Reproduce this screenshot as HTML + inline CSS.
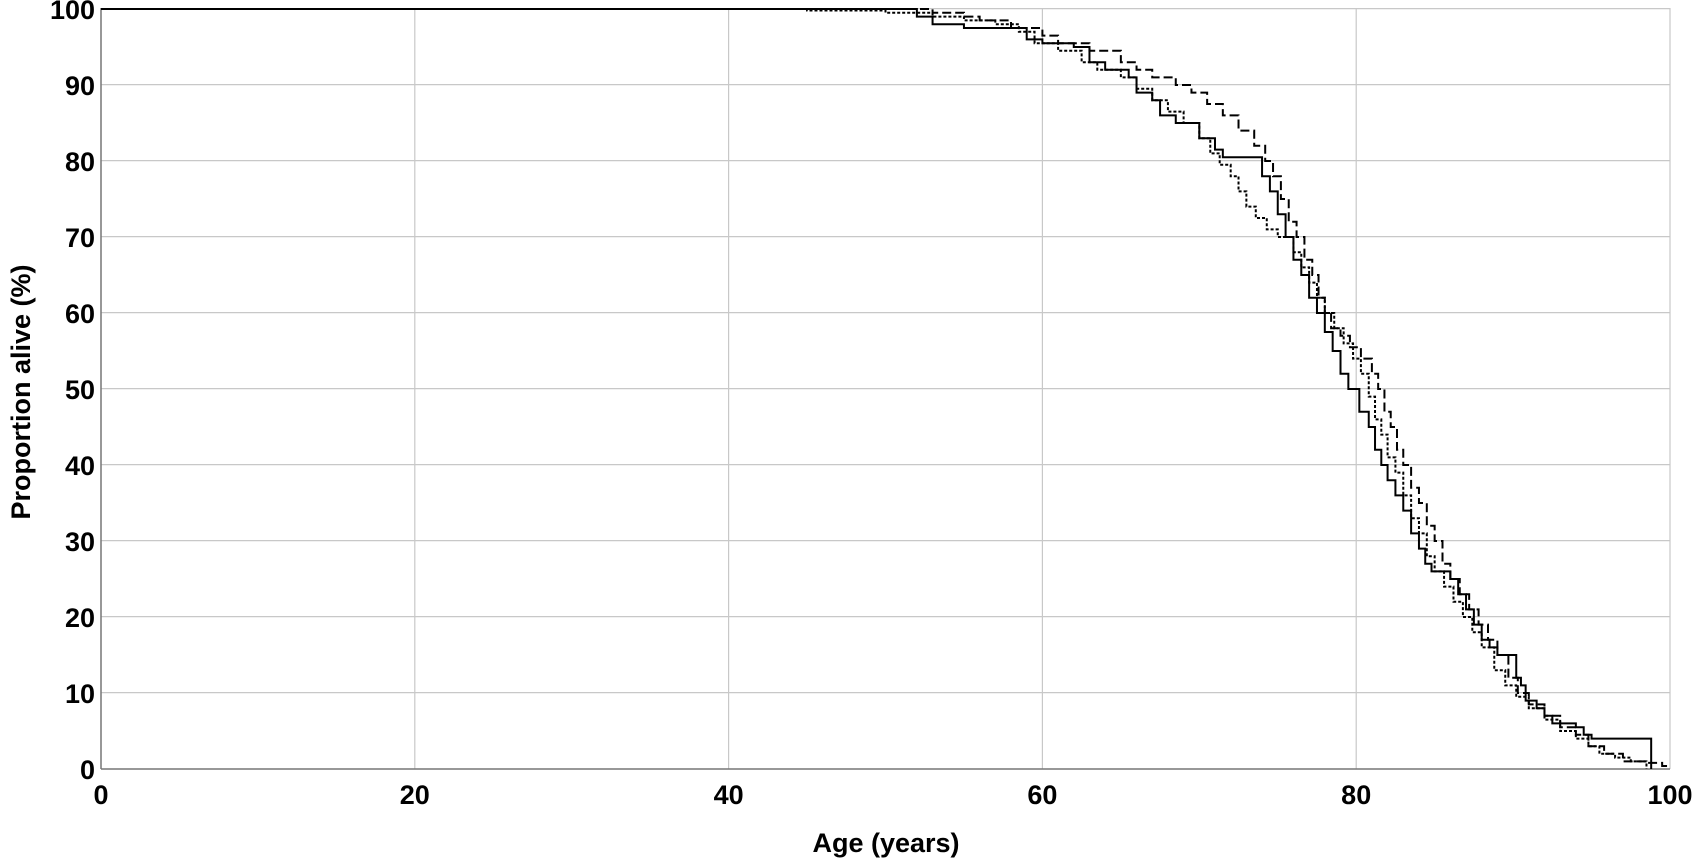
<!DOCTYPE html>
<html><head><style>
body{margin:0;background:#fff;}
svg{display:block;font-family:"Liberation Sans",Arial,sans-serif;font-weight:bold;}
</style></head><body>
<svg width="1701" height="864" viewBox="0 0 1701 864">
<rect width="1701" height="864" fill="#fff"/>
<g stroke="#c8c8c8" stroke-width="1.2">
<line x1="101" y1="692.6" x2="1670" y2="692.6"/><line x1="101" y1="616.6" x2="1670" y2="616.6"/>
<line x1="101" y1="540.6" x2="1670" y2="540.6"/><line x1="101" y1="464.6" x2="1670" y2="464.6"/>
<line x1="101" y1="388.6" x2="1670" y2="388.6"/><line x1="101" y1="312.6" x2="1670" y2="312.6"/>
<line x1="101" y1="236.6" x2="1670" y2="236.6"/><line x1="101" y1="160.6" x2="1670" y2="160.6"/>
<line x1="101" y1="84.6" x2="1670" y2="84.6"/><line x1="101" y1="8.6" x2="1670" y2="8.6"/>
<line x1="414.8" y1="8" x2="414.8" y2="769"/><line x1="728.6" y1="8" x2="728.6" y2="769"/>
<line x1="1042.4" y1="8" x2="1042.4" y2="769"/><line x1="1356.2" y1="8" x2="1356.2" y2="769"/>
<line x1="1670" y1="8" x2="1670" y2="769"/>
</g>
<line x1="101" y1="8" x2="101" y2="769" stroke="#777" stroke-width="1.5"/>
<line x1="101" y1="769" x2="1670" y2="769" stroke="#777" stroke-width="1.5"/>
<g transform="translate(101,769) scale(15.69,-7.6)" fill="none" stroke="#000">
<path vector-effect="non-scaling-stroke" stroke-width="2" d="M0 100H52V99H53V98H55V97.5H59V96H60V95.5H62V95H63V93H64V92H65.5V91H66V89H67V88H67.5V86H68.5V85H70V83H71V81.5H71.5V80.5H74V78H74.5V76H75V73H75.5V70H76V67H76.5V65H77V62H77.5V60H78V57.5H78.5V55H79V52H79.5V50H80.2V47H80.8V45H81.2V42H81.6V40H82V38H82.5V36H83V34H83.5V31H84V29H84.4V27H84.8V26H86V25H86.5V23H87V21H87.5V19H88V17H88.5V16H89V15H90.2V12H90.5V11H90.8V9H91.5V8H92V7H92.5V6H94V5.5H94.5V4.5H95V4H98.8V0"/>
<path vector-effect="non-scaling-stroke" stroke-width="2" stroke-dasharray="9,4" d="M0 100H53V99.5H55V99H56V98.5H58V97.5H60V96.5H61V95.5H63V94.5H65V93H66V92H67V91H68.5V90H69.5V89H70.5V87.5H71.5V86H72.5V84H73.5V82H74.2V80H74.7V78H75.2V75H75.7V72H76.2V70H76.7V67H77.2V65H77.6V62H78V60H78.4V58H79V57H79.6V55.5H80.3V54H81V52H81.4V50H81.8V47H82.2V45H82.6V42H83V40H83.5V37H84V35H84.5V32H85V30H85.5V27H86V25H86.6V23H87.2V21H87.8V19H88.4V17H89V15H89.7V12H90.3V10H91V8.5H92V7H93V5.5H94V4.5H94.8V3H95.8V2H97V1H98.5V0.8H99.5V0.4H100"/>
<path vector-effect="non-scaling-stroke" stroke-width="2" stroke-dasharray="3,2" d="M0 100H45V99.8H50V99.5H53V99H55V98.5H57V98H58.5V97H59.5V95.5H61V94.5H62.5V93H63.5V92H65V91H66V89.5H67V88H68V86.5H69V85H70V83H70.7V81H71.3V79.5H72V78H72.5V76H73V74H73.6V72.5H74.3V71H75V70H76V68H76.5V66H77V64H77.5V62H78V60H78.6V58H79.2V56H79.8V54H80.3V52H80.8V49H81.2V46H81.6V44H82V41H82.5V39H83V36H83.5V33H84V31H84.5V28H85V26H85.6V24H86.2V22H86.8V20H87.4V18H88V16H88.8V13H89.5V11H90.2V9.5H91V8H92V6.5H93V5H94V4H94.8V3H95.5V2H96.5V1.5H97.5V1H98.5V0"/>
</g>
<g font-size="27" text-anchor="end" fill="#000">
<text x="95" y="779">0</text><text x="95" y="703">10</text><text x="95" y="627">20</text>
<text x="95" y="551">30</text><text x="95" y="475">40</text><text x="95" y="399">50</text>
<text x="95" y="323">60</text><text x="95" y="247">70</text><text x="95" y="171">80</text>
<text x="95" y="95">90</text><text x="95" y="19">100</text>
</g>
<g font-size="27" text-anchor="middle" fill="#000">
<text x="101" y="804">0</text><text x="414.8" y="804">20</text><text x="728.6" y="804">40</text>
<text x="1042.4" y="804">60</text><text x="1356.2" y="804">80</text><text x="1670" y="804">100</text>
<text x="886" y="852">Age (years)</text>
<text transform="translate(30,392) rotate(-90)">Proportion alive (%)</text>
</g>
</svg>
</body></html>
